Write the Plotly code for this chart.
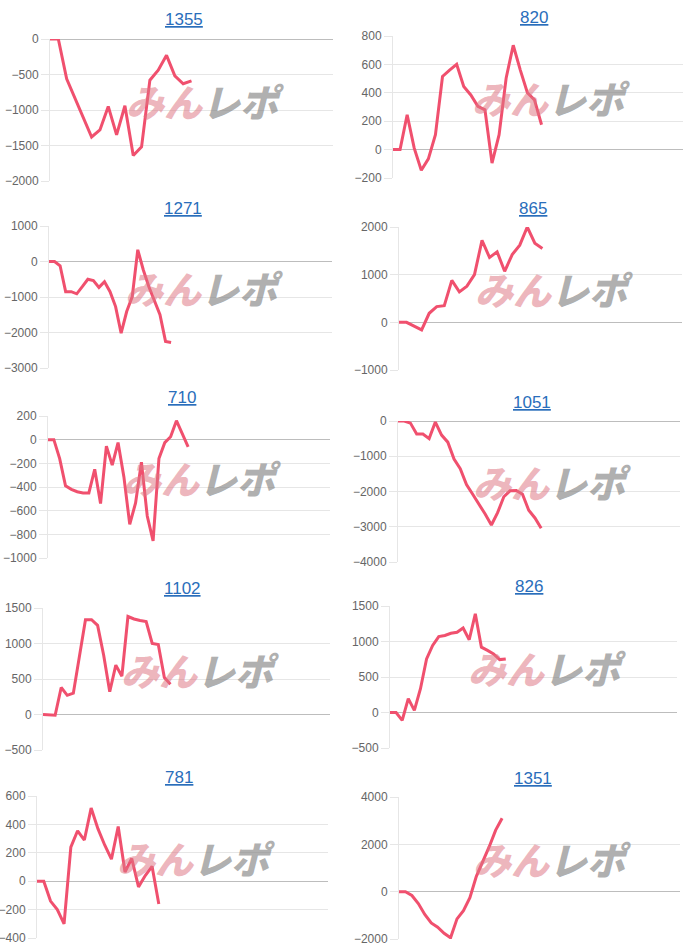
import plotly.graph_objects as go

# machine numbers shown above each small chart (left column first, row by row)
titles = ["1355", "820", "1271", "865", "710", "1051", "1102", "826", "781", "1351"]

# running coin difference per sample
m1355 = [0, 0, -560, -830, -1100, -1380, -1280, -950, -1350, -940, -1640, -1520,
         -580, -440, -230, -520, -630, -590]
m820 = [0, 0, 245, 10, -145, -65, 105, 515, 560, 600, 445, 385, 305, 280, -95,
        105, 505, 735, 560, 400, 350, 175]
m1271 = [0, 0, -120, -850, -850, -910, -710, -500, -540, -730, -570, -850, -1270,
         -2020, -1410, -990, 330, -240, -710, -1080, -1500, -2250, -2280]
m865 = [0, 0, -80, -160, 190, 330, 350, 880, 640, 760, 1000, 1720, 1360, 1480,
        1070, 1420, 1620, 2000, 1660, 1550]
m710 = [0, 0, -160, -390, -420, -440, -450, -450, -250, -540, -55, -215, -25,
        -315, -715, -535, -190, -645, -855, -160, -25, 25, 160, 55, -60]
m1051 = [0, 0, -60, -370, -370, -500, -30, -400, -600, -1080, -1350, -1800, -2080,
         -2350, -2640, -2950, -2600, -2150, -1980, -1970, -2080, -2530, -2750, -3040]
m1102 = [0, 0, -10, 380, 270, 300, 810, 1335, 1335, 1255, 835, 320, 695, 540,
         1380, 1345, 1325, 1310, 1000, 985, 520, 425]
m826 = [0, 0, -110, 195, 30, 335, 755, 945, 1070, 1085, 1115, 1130, 1190, 1025,
        1390, 920, 875, 825, 745, 755]
m781 = [0, 0, -140, -200, -300, 240, 355, 290, 515, 370, 255, 155, 385, 65, 160,
        -40, 40, 105, -160]
m1351 = [0, 0, -160, -500, -960, -1320, -1500, -1760, -1950, -1150, -800, -250,
         650, 1250, 1900, 2600, 3100]

series = [m1355, m820, m1271, m865, m710, m1051, m1102, m826, m781, m1351]

y_ranges = [(-2000, 0), (-200, 800), (-3000, 1000), (-1000, 2000), (-1000, 200),
            (-4000, 0), (-500, 1500), (-500, 1500), (-400, 600), (-2000, 4000)]
y_steps = [500, 200, 1000, 1000, 200, 1000, 500, 500, 200, 2000]
x_spans = [34, 41, 51, 37.5, 48.3, 45.3, 47.3, 47.1, 43, 43.6]

W, H = 700, 950
# plot boxes in pixels: left, right, top, bottom
boxes = [
    (50, 333, 39, 181), (393, 683, 36, 178),
    (49, 332, 226, 368), (399, 682, 227, 370),
    (48, 330, 416, 558), (398, 680, 421, 562),
    (43, 330, 608, 750), (390, 677, 606, 748),
    (37, 328, 796, 938), (399, 680, 797, 939),
]
title_x = [184, 534, 183, 533, 182, 532, 182, 529, 179, 533]
title_y = [19, 18, 208, 208, 397, 402, 588, 586, 777, 778]

LINE = "#F0506E"
GRID = "#E6E6E6"
ZERO = "#BDBDBD"
FONT = "Liberation Sans, Arial, sans-serif"
MARK = ("<span style='color:rgba(222,118,132,0.55)'>みん</span>"
        "<span style='color:rgba(135,135,135,0.68)'>レポ</span>")

fig = go.Figure()
layout = {}
annotations = []

for i, vals in enumerate(series):
    ax = "" if i == 0 else str(i + 1)
    l, r, t, b = boxes[i]
    fig.add_trace(go.Scatter(
        x=list(range(len(vals))), y=vals,
        mode="lines", line=dict(color=LINE, width=3),
        xaxis="x" + ax, yaxis="y" + ax,
        hoverinfo="skip", showlegend=False
    ))
    layout["xaxis" + ax] = dict(
        domain=[l / W, r / W], range=[0, x_spans[i]], anchor="y" + ax,
        showgrid=False, zeroline=False, showticklabels=False, showline=False,
        automargin=False, fixedrange=True
    )
    lo, hi = y_ranges[i]
    layout["yaxis" + ax] = dict(
        domain=[1 - b / H, 1 - t / H], range=[lo, hi], anchor="x" + ax,
        tick0=0, dtick=y_steps[i],
        showgrid=True, gridcolor=GRID, gridwidth=1,
        zeroline=True, zerolinecolor=ZERO, zerolinewidth=1,
        showline=True, linecolor=GRID, linewidth=1,
        ticks="outside", ticklen=8, tickcolor=GRID,
        tickfont=dict(size=12, color="#666666", family=FONT),
        automargin=False, fixedrange=True
    )
    annotations.append(dict(
        text="<u>%s</u>" % titles[i], x=title_x[i] / W, y=1 - title_y[i] / H,
        xref="paper", yref="paper", showarrow=False,
        xanchor="center", yanchor="middle",
        font=dict(size=17, color="#2A6EBB", family=FONT)
    ))
    # site watermark
    annotations.append(dict(
        text=MARK, x=0.548, y=0.57,
        xref="x%s domain" % ax, yref="y%s domain" % ax, showarrow=False,
        xanchor="center", yanchor="middle",
        font=dict(size=38, family="Noto Sans CJK JP", weight=900, style="italic")
    ))

fig.update_layout(
    width=W, height=H, autosize=False,
    margin=dict(l=0, r=0, t=0, b=0, pad=0),
    paper_bgcolor="white", plot_bgcolor="white",
    font=dict(family=FONT),
    annotations=annotations,
    **layout
)

fig.write_html("out.html", config={"displayModeBar": False},
               post_script="document.body.style.margin='0';")
